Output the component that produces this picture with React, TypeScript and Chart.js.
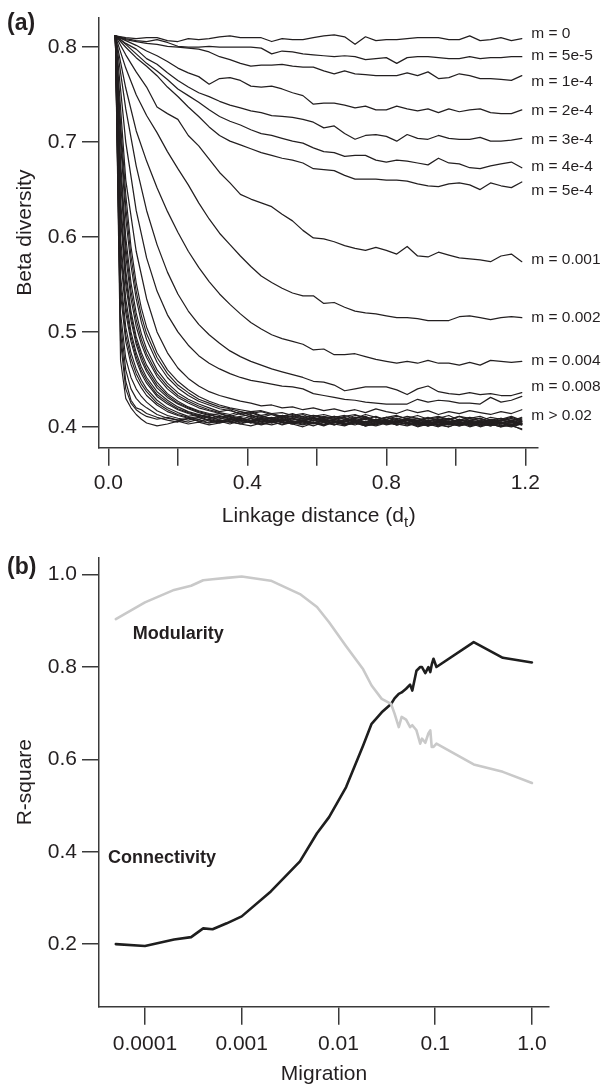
import React, { useEffect, useRef } from 'react';
import { Chart, registerables } from 'chart.js';

Chart.register(...registerables);

const FONT = "'Liberation Sans', Arial, Helvetica, sans-serif";
const INK = '#231f20';
const AXIS = '#3a3a3a';
const TEXT = '#231f20';

// ---------- Panel (a): beta diversity vs linkage distance ----------
const X_GRID = [0.02, 0.05, 0.08, 0.11, 0.14, 0.17, 0.20, 0.23, 0.26, 0.29, 0.32, 0.35, 0.38, 0.41, 0.44, 0.47, 0.50, 0.53, 0.56, 0.59, 0.62, 0.65, 0.68, 0.71, 0.74, 0.77, 0.80, 0.83, 0.86, 0.89, 0.92, 0.95, 0.98, 1.01, 1.04, 1.07, 1.10, 1.13, 1.16, 1.19];
const X_FAST = [0.02, 0.035, 0.05, 0.065, 0.08, 0.095, 0.11, 0.14, 0.17, 0.20, 0.23, 0.26, 0.29, 0.32, 0.35, 0.38, 0.41, 0.44, 0.47, 0.50, 0.53, 0.56, 0.59, 0.62, 0.65, 0.68, 0.71, 0.74, 0.77, 0.80, 0.83, 0.86, 0.89, 0.92, 0.95, 0.98, 1.01, 1.04, 1.07, 1.10, 1.13, 1.16, 1.19];

const BETA_M0 = [0.812,0.810,0.809,0.810,0.810,0.807,0.806,0.809,0.808,0.809,0.811,0.812,0.810,0.810,0.810,0.806,0.809,0.808,0.808,0.810,0.812,0.813,0.811,0.803,0.811,0.807,0.808,0.808,0.809,0.810,0.810,0.810,0.808,0.808,0.812,0.807,0.808,0.810,0.807,0.809];
const BETA_M5E5 = [0.812,0.809,0.807,0.806,0.808,0.805,0.801,0.800,0.800,0.801,0.800,0.800,0.800,0.800,0.799,0.793,0.796,0.795,0.793,0.792,0.791,0.790,0.791,0.790,0.787,0.788,0.789,0.783,0.789,0.790,0.790,0.789,0.788,0.788,0.790,0.788,0.789,0.789,0.790,0.790];
const BETA_M1E4 = [0.812,0.808,0.806,0.804,0.803,0.801,0.800,0.799,0.798,0.795,0.790,0.787,0.783,0.780,0.781,0.781,0.782,0.780,0.779,0.779,0.775,0.772,0.775,0.772,0.771,0.770,0.770,0.770,0.773,0.770,0.774,0.767,0.768,0.772,0.770,0.767,0.767,0.766,0.765,0.770];
const BETA_M2E4 = [0.812,0.807,0.802,0.796,0.791,0.785,0.778,0.773,0.769,0.761,0.767,0.768,0.765,0.759,0.758,0.759,0.756,0.752,0.749,0.740,0.741,0.741,0.739,0.736,0.738,0.734,0.734,0.738,0.735,0.733,0.735,0.731,0.735,0.732,0.734,0.735,0.731,0.730,0.730,0.734];
const BETA_M3E4 = [0.812,0.804,0.798,0.788,0.782,0.773,0.765,0.758,0.752,0.748,0.743,0.739,0.736,0.733,0.731,0.728,0.727,0.726,0.724,0.721,0.715,0.717,0.709,0.703,0.707,0.708,0.706,0.701,0.708,0.704,0.703,0.707,0.704,0.703,0.703,0.705,0.701,0.701,0.702,0.704];
const BETA_M4E4 = [0.812,0.803,0.793,0.783,0.775,0.766,0.756,0.749,0.742,0.734,0.727,0.722,0.718,0.713,0.709,0.707,0.704,0.701,0.699,0.694,0.690,0.689,0.685,0.686,0.686,0.681,0.679,0.681,0.680,0.678,0.676,0.683,0.678,0.677,0.673,0.672,0.675,0.677,0.679,0.673];
const BETA_M5E4 = [0.812,0.800,0.789,0.780,0.770,0.758,0.748,0.737,0.727,0.716,0.707,0.701,0.697,0.693,0.689,0.686,0.683,0.681,0.678,0.672,0.671,0.670,0.665,0.661,0.661,0.661,0.660,0.660,0.659,0.656,0.654,0.653,0.656,0.657,0.655,0.650,0.657,0.654,0.652,0.658];
const BETA_M001 = [0.812,0.792,0.774,0.758,0.737,0.730,0.724,0.707,0.696,0.682,0.668,0.657,0.645,0.640,0.636,0.632,0.624,0.617,0.607,0.599,0.598,0.595,0.591,0.588,0.586,0.589,0.586,0.582,0.590,0.580,0.579,0.584,0.581,0.578,0.577,0.576,0.574,0.580,0.582,0.574];
const BETA_M002 = [0.812,0.778,0.750,0.728,0.710,0.690,0.672,0.655,0.636,0.619,0.604,0.592,0.580,0.569,0.559,0.552,0.546,0.541,0.538,0.538,0.530,0.531,0.526,0.522,0.520,0.519,0.517,0.515,0.515,0.514,0.512,0.512,0.512,0.516,0.517,0.515,0.513,0.515,0.516,0.515];
const BETA_M004 = [0.812,0.757,0.712,0.680,0.652,0.627,0.605,0.585,0.568,0.553,0.540,0.529,0.519,0.510,0.503,0.497,0.493,0.490,0.487,0.481,0.482,0.476,0.476,0.477,0.474,0.471,0.469,0.467,0.469,0.467,0.470,0.467,0.467,0.465,0.468,0.465,0.470,0.469,0.468,0.469];
const BETA_M008 = [0.812,0.735,0.675,0.628,0.592,0.563,0.540,0.522,0.508,0.497,0.488,0.480,0.474,0.469,0.465,0.461,0.458,0.455,0.452,0.448,0.447,0.444,0.438,0.440,0.442,0.442,0.442,0.439,0.434,0.440,0.443,0.437,0.435,0.434,0.436,0.434,0.435,0.433,0.433,0.436];
const BETA_M01 = [0.812,0.700,0.628,0.578,0.543,0.518,0.500,0.486,0.475,0.467,0.461,0.456,0.452,0.449,0.447,0.445,0.443,0.442,0.440,0.435,0.433,0.431,0.429,0.428,0.426,0.425,0.424,0.424,0.424,0.429,0.426,0.428,0.427,0.425,0.425,0.424,0.431,0.426,0.428,0.432];
const BETA_M015 = [0.812,0.660,0.585,0.535,0.500,0.478,0.462,0.451,0.443,0.437,0.433,0.430,0.427,0.425,0.422,0.423,0.420,0.421,0.418,0.420,0.417,0.419,0.416,0.418,0.415,0.419,0.416,0.414,0.418,0.415,0.417,0.413,0.416,0.414,0.417,0.415,0.413,0.416,0.414,0.418];

// high-migration bundle (m > 0.02), sampled on X_FAST
const BETA_HIGH_1 = [0.812,0.72,0.645,0.59,0.552,0.525,0.505,0.478,0.460,0.448,0.439,0.432,0.427,0.423,0.420,0.418,0.416,0.417,0.414,0.415,0.412,0.414,0.411,0.413,0.410,0.412,0.409,0.413,0.410,0.408,0.411,0.409,0.412,0.408,0.410,0.407,0.411,0.409,0.406,0.410,0.408,0.411,0.407];
const BETA_HIGH_2 = [0.812,0.70,0.62,0.57,0.535,0.510,0.492,0.468,0.452,0.441,0.433,0.427,0.423,0.419,0.417,0.414,0.416,0.412,0.414,0.411,0.413,0.409,0.412,0.410,0.408,0.411,0.413,0.409,0.407,0.410,0.412,0.408,0.406,0.409,0.411,0.408,0.405,0.409,0.411,0.407,0.409,0.406,0.410];
const BETA_HIGH_3 = [0.812,0.68,0.60,0.552,0.520,0.498,0.482,0.460,0.446,0.436,0.429,0.424,0.420,0.416,0.418,0.413,0.415,0.411,0.409,0.412,0.410,0.413,0.408,0.411,0.409,0.406,0.410,0.408,0.411,0.407,0.405,0.409,0.407,0.410,0.406,0.408,0.411,0.407,0.405,0.408,0.406,0.409,0.405];
const BETA_HIGH_4 = [0.812,0.66,0.58,0.535,0.506,0.487,0.473,0.453,0.440,0.431,0.425,0.420,0.417,0.414,0.411,0.414,0.410,0.412,0.408,0.411,0.407,0.409,0.406,0.410,0.408,0.405,0.409,0.411,0.406,0.408,0.404,0.407,0.409,0.405,0.408,0.406,0.403,0.407,0.409,0.405,0.407,0.404,0.406];
const BETA_HIGH_5 = [0.812,0.64,0.565,0.522,0.495,0.478,0.465,0.447,0.435,0.427,0.421,0.417,0.414,0.412,0.409,0.411,0.413,0.408,0.410,0.406,0.409,0.411,0.407,0.405,0.408,0.410,0.406,0.404,0.408,0.406,0.409,0.405,0.403,0.407,0.405,0.408,0.404,0.406,0.403,0.407,0.405,0.402,0.406];
const BETA_HIGH_6 = [0.812,0.62,0.55,0.512,0.487,0.470,0.458,0.441,0.431,0.424,0.419,0.415,0.412,0.414,0.410,0.408,0.411,0.407,0.409,0.412,0.408,0.406,0.409,0.407,0.404,0.407,0.409,0.405,0.408,0.403,0.406,0.408,0.405,0.402,0.406,0.404,0.407,0.405,0.402,0.405,0.403,0.407,0.404];
const BETA_HIGH_7 = [0.812,0.60,0.535,0.500,0.478,0.463,0.452,0.437,0.428,0.421,0.416,0.413,0.410,0.408,0.411,0.407,0.405,0.409,0.406,0.408,0.405,0.403,0.407,0.409,0.405,0.403,0.406,0.408,0.404,0.406,0.402,0.405,0.407,0.404,0.401,0.405,0.403,0.406,0.404,0.401,0.404,0.406,0.403];
const BETA_HIGH_8 = [0.812,0.58,0.52,0.490,0.470,0.456,0.446,0.432,0.424,0.418,0.414,0.411,0.413,0.409,0.407,0.410,0.406,0.408,0.404,0.407,0.409,0.405,0.403,0.406,0.408,0.404,0.402,0.406,0.403,0.405,0.408,0.404,0.402,0.405,0.403,0.400,0.404,0.402,0.405,0.403,0.400,0.404,0.402];
const BETA_HIGH_9 = [0.812,0.56,0.505,0.478,0.461,0.449,0.440,0.428,0.420,0.415,0.411,0.413,0.409,0.406,0.408,0.405,0.409,0.406,0.404,0.407,0.404,0.406,0.409,0.405,0.402,0.405,0.407,0.403,0.401,0.404,0.406,0.403,0.405,0.401,0.404,0.402,0.405,0.401,0.403,0.406,0.402,0.400,0.403];
const BETA_HIGH_10 = [0.812,0.54,0.490,0.466,0.451,0.441,0.433,0.423,0.416,0.412,0.409,0.411,0.407,0.405,0.408,0.404,0.406,0.409,0.405,0.403,0.406,0.404,0.401,0.405,0.407,0.403,0.405,0.402,0.404,0.407,0.403,0.401,0.404,0.406,0.402,0.404,0.401,0.403,0.406,0.402,0.404,0.401,0.398];
const BETA_HIGH_11 = [0.812,0.52,0.472,0.452,0.440,0.432,0.426,0.417,0.412,0.409,0.407,0.410,0.406,0.404,0.407,0.409,0.405,0.403,0.406,0.402,0.405,0.407,0.404,0.402,0.405,0.403,0.406,0.401,0.403,0.405,0.402,0.404,0.400,0.403,0.405,0.402,0.404,0.400,0.403,0.401,0.404,0.402,0.404];
const BETA_HIGH_12 = [0.812,0.50,0.448,0.428,0.420,0.418,0.414,0.410,0.407,0.405,0.409,0.406,0.404,0.407,0.405,0.403,0.406,0.404,0.408,0.405,0.403,0.406,0.404,0.401,0.405,0.403,0.406,0.404,0.402,0.405,0.403,0.407,0.404,0.402,0.405,0.403,0.401,0.404,0.406,0.403,0.405,0.402,0.404];
const BETA_HIGH_13 = [0.812,0.47,0.430,0.420,0.413,0.408,0.404,0.401,0.403,0.406,0.403,0.405,0.402,0.404,0.406,0.403,0.401,0.404,0.402,0.405,0.403,0.400,0.404,0.402,0.405,0.402,0.404,0.401,0.403,0.406,0.402,0.404,0.401,0.403,0.400,0.404,0.402,0.405,0.401,0.403,0.400,0.402,0.397];
const BETA_HIGH_14 = [0.812,0.71,0.632,0.58,0.543,0.517,0.498,0.473,0.456,0.444,0.436,0.429,0.425,0.421,0.419,0.416,0.414,0.416,0.413,0.411,0.414,0.410,0.412,0.409,0.411,0.408,0.412,0.410,0.407,0.410,0.408,0.411,0.409,0.406,0.409,0.412,0.407,0.410,0.408,0.405,0.409,0.407,0.409];
const BETA_HIGH_15 = [0.812,0.67,0.59,0.543,0.513,0.492,0.477,0.456,0.443,0.433,0.427,0.422,0.418,0.415,0.413,0.416,0.412,0.410,0.413,0.409,0.411,0.408,0.410,0.407,0.411,0.409,0.406,0.409,0.407,0.410,0.406,0.408,0.405,0.409,0.407,0.404,0.408,0.406,0.409,0.405,0.407,0.410,0.406];
const BETA_HIGH_16 = [0.812,0.63,0.558,0.517,0.491,0.474,0.461,0.444,0.433,0.425,0.420,0.416,0.413,0.410,0.412,0.409,0.407,0.410,0.408,0.405,0.409,0.407,0.410,0.406,0.404,0.408,0.406,0.409,0.405,0.407,0.404,0.408,0.406,0.403,0.407,0.409,0.405,0.403,0.406,0.404,0.407,0.405,0.403];
const BETA_HIGH_17 = [0.812,0.59,0.527,0.495,0.474,0.459,0.449,0.434,0.426,0.419,0.415,0.412,0.409,0.411,0.408,0.406,0.409,0.405,0.407,0.410,0.406,0.404,0.407,0.405,0.402,0.406,0.408,0.404,0.406,0.403,0.405,0.407,0.403,0.401,0.405,0.403,0.406,0.402,0.404,0.407,0.403,0.405,0.402];
const BETA_HIGH_18 = [0.812,0.55,0.497,0.472,0.456,0.445,0.437,0.425,0.418,0.413,0.410,0.408,0.411,0.407,0.405,0.408,0.404,0.406,0.409,0.405,0.403,0.406,0.404,0.407,0.403,0.401,0.405,0.403,0.406,0.402,0.404,0.407,0.403,0.405,0.402,0.400,0.404,0.406,0.402,0.404,0.401,0.405,0.403];
const BETA_HIGH_19 = [0.812,0.51,0.460,0.440,0.430,0.424,0.420,0.413,0.409,0.407,0.405,0.408,0.404,0.406,0.403,0.407,0.405,0.402,0.405,0.408,0.404,0.402,0.405,0.403,0.406,0.402,0.404,0.401,0.405,0.403,0.406,0.402,0.404,0.401,0.403,0.406,0.402,0.404,0.400,0.403,0.405,0.401,0.403];
const BETA_HIGH_20 = [0.812,0.49,0.440,0.425,0.418,0.414,0.411,0.408,0.410,0.407,0.409,0.406,0.408,0.405,0.409,0.407,0.404,0.408,0.406,0.409,0.405,0.407,0.404,0.408,0.406,0.403,0.407,0.405,0.408,0.404,0.406,0.409,0.405,0.403,0.407,0.405,0.408,0.404,0.406,0.403,0.407,0.405,0.408];

const SLOW_SERIES = [BETA_M0, BETA_M5E5, BETA_M1E4, BETA_M2E4, BETA_M3E4, BETA_M4E4, BETA_M5E4, BETA_M001, BETA_M002, BETA_M004, BETA_M008, BETA_M01, BETA_M015];
const FAST_SERIES = [BETA_HIGH_1, BETA_HIGH_14, BETA_HIGH_2, BETA_HIGH_3, BETA_HIGH_15, BETA_HIGH_4, BETA_HIGH_5, BETA_HIGH_16, BETA_HIGH_6, BETA_HIGH_7, BETA_HIGH_17, BETA_HIGH_8, BETA_HIGH_9, BETA_HIGH_18, BETA_HIGH_10, BETA_HIGH_11, BETA_HIGH_19, BETA_HIGH_12, BETA_HIGH_20, BETA_HIGH_13];

const LINE_LABELS = ['m = 0', 'm = 5e-5', 'm = 1e-4', 'm = 2e-4', 'm = 3e-4', 'm = 4e-4', 'm = 5e-4', 'm = 0.001', 'm = 0.002', 'm = 0.004', 'm = 0.008', 'm > 0.02'];
const LABEL_Y = [0.814, 0.791, 0.764, 0.733, 0.703, 0.674, 0.649, 0.576, 0.515, 0.470, 0.442, 0.412];
const LABEL_X = 1.217;

const A_X_TICKS = [0, 0.2, 0.4, 0.6, 0.8, 1.0, 1.2];
const A_X_LABELS = ['0.0', '', '0.4', '', '0.8', '', '1.2'];
const A_Y_TICKS = [0.4, 0.5, 0.6, 0.7, 0.8];
const A_Y_LABELS = ['0.4', '0.5', '0.6', '0.7', '0.8'];

// ---------- Panel (b): R-square vs migration ----------
const MIGRATION = [5e-5, 1e-4, 2e-4, 3e-4, 4e-4, 5e-4, 7e-4, 1e-3, 2e-3, 4e-3, 6e-3, 8e-3, 0.012, 0.018, 0.022, 0.028, 0.035, 0.038, 0.042, 0.045, 0.05, 0.055, 0.058, 0.064, 0.07, 0.073, 0.079, 0.085, 0.089, 0.092, 0.096, 0.103, 0.25, 0.5, 1.0];
const CONNECTIVITY = [0.200, 0.196, 0.210, 0.215, 0.234, 0.232, 0.245, 0.260, 0.314, 0.379, 0.440, 0.475, 0.540, 0.630, 0.677, 0.702, 0.720, 0.732, 0.742, 0.745, 0.753, 0.762, 0.749, 0.792, 0.800, 0.800, 0.787, 0.800, 0.789, 0.805, 0.818, 0.800, 0.854, 0.820, 0.810];
const MODULARITY = [0.904, 0.940, 0.967, 0.976, 0.988, 0.990, 0.993, 0.996, 0.987, 0.958, 0.930, 0.897, 0.845, 0.795, 0.760, 0.731, 0.720, 0.699, 0.670, 0.692, 0.686, 0.670, 0.674, 0.663, 0.634, 0.645, 0.636, 0.656, 0.663, 0.627, 0.627, 0.634, 0.589, 0.573, 0.549];

const B_X_TICKS = [1e-4, 1e-3, 1e-2, 1e-1, 1];
const B_X_LABELS = ['0.0001', '0.001', '0.01', '0.1', '1.0'];
const B_Y_TICKS = [0.2, 0.4, 0.6, 0.8, 1.0];
const B_Y_LABELS = ['0.2', '0.4', '0.6', '0.8', '1.0'];

const ANNOT_TEXT = ['Modularity', 'Connectivity'];
const ANNOT_M = [7.5e-5, 4.15e-5];
const ANNOT_V = [0.872, 0.386];

function lineSet(xs: number[], ys: number[], color: string, width: number) {
  return {
    data: xs.map((x, i) => ({ x, y: ys[i] })),
    borderColor: color,
    backgroundColor: color,
    borderWidth: width,
    pointRadius: 0,
    fill: false,
    tension: 0,
    borderJoinStyle: 'round' as const,
    borderCapStyle: 'round' as const,
  };
}

function axisStyle(tickLength: number) {
  return {
    grid: { display: true, drawOnChartArea: false, drawTicks: true, tickLength, color: AXIS, lineWidth: 1.5 },
    border: { display: true, color: AXIS, width: 1.5 },
  };
}

const panelAText = {
  id: 'panelAText',
  afterDraw(chart: any) {
    const { ctx, chartArea, scales } = chart;
    const xs = scales.x;
    const ys = scales.y;
    ctx.save();
    ctx.fillStyle = TEXT;
    ctx.textAlign = 'left';
    ctx.textBaseline = 'middle';
    ctx.font = `15.5px ${FONT}`;
    LINE_LABELS.forEach((t, i) => {
      ctx.fillText(t, xs.getPixelForValue(LABEL_X), ys.getPixelForValue(LABEL_Y[i]));
    });
    ctx.textBaseline = 'alphabetic';
    ctx.font = `bold 23px ${FONT}`;
    ctx.fillStyle = INK;
    ctx.fillText('(a)', 7, 30);
    // axis title with subscript
    ctx.fillStyle = TEXT;
    const main = 'Linkage distance (d';
    const sub = 't';
    const close = ')';
    ctx.font = `21px ${FONT}`;
    const w1 = ctx.measureText(main).width;
    const w3 = ctx.measureText(close).width;
    ctx.font = `15px ${FONT}`;
    const w2 = ctx.measureText(sub).width;
    const cx = (chartArea.left + chartArea.right) / 2;
    const sx = cx - (w1 + w2 + w3) / 2;
    const base = 522;
    ctx.font = `21px ${FONT}`;
    ctx.fillText(main, sx, base);
    ctx.font = `15px ${FONT}`;
    ctx.fillText(sub, sx + w1, base + 5);
    ctx.font = `21px ${FONT}`;
    ctx.fillText(close, sx + w1 + w2 + 0.5, base);
    ctx.restore();
  },
};

const panelBText = {
  id: 'panelBText',
  afterDraw(chart: any) {
    const { ctx, scales } = chart;
    const xs = scales.x;
    const ys = scales.y;
    ctx.save();
    ctx.fillStyle = INK;
    ctx.textAlign = 'left';
    ctx.textBaseline = 'alphabetic';
    ctx.font = `bold 23px ${FONT}`;
    ctx.fillText('(b)', 7, 34);
    ctx.textBaseline = 'middle';
    ctx.font = `bold 18px ${FONT}`;
    ANNOT_TEXT.forEach((t, i) => {
      ctx.fillText(t, xs.getPixelForValue(ANNOT_M[i]), ys.getPixelForValue(ANNOT_V[i]));
    });
    ctx.restore();
  },
};

export default function App() {
  const refA = useRef<HTMLCanvasElement | null>(null);
  const refB = useRef<HTMLCanvasElement | null>(null);

  useEffect(() => {
    const tickFont = { family: FONT, size: 21 };
    const titleFont = { family: FONT, size: 21 };

    const datasetsA = [
      ...FAST_SERIES.map((s) => lineSet(X_FAST, s, INK, 1.15)),
      ...SLOW_SERIES.map((s) => lineSet(X_GRID, s, INK, 1.25)),
    ];

    const chartA = new Chart(refA.current as HTMLCanvasElement, {
      type: 'line',
      data: { datasets: datasetsA as any },
      plugins: [panelAText],
      options: {
        animation: false,
        responsive: false,
        maintainAspectRatio: false,
        events: [],
        layout: { padding: { left: 0, right: 67, top: 9.3, bottom: 0 } },
        plugins: { legend: { display: false }, tooltip: { enabled: false }, title: { display: false } },
        scales: {
          x: {
            type: 'linear',
            min: -0.027,
            max: 1.2366,
            ...axisStyle(18),
            afterBuildTicks: (s: any) => { s.ticks = A_X_TICKS.map((v) => ({ value: v })); },
            afterFit: (s: any) => { s.height = 92.3; },
            ticks: {
              autoSkip: false,
              maxRotation: 0,
              padding: 5,
              color: TEXT,
              font: tickFont,
              callback: (_v: any, i: number) => A_X_LABELS[i],
            },
          },
          y: {
            type: 'linear',
            min: 0.378,
            max: 0.8312,
            ...axisStyle(17),
            afterBuildTicks: (s: any) => { s.ticks = A_Y_TICKS.map((v) => ({ value: v })); },
            afterFit: (s: any) => { s.width = 99; },
            ticks: {
              padding: 5,
              color: TEXT,
              font: tickFont,
              callback: (_v: any, i: number) => A_Y_LABELS[i],
            },
            title: { display: true, text: 'Beta diversity', color: TEXT, font: titleFont, padding: { top: 12.4, bottom: 0 } },
          },
        },
      } as any,
    });

    const chartB = new Chart(refB.current as HTMLCanvasElement, {
      type: 'line',
      data: {
        datasets: [
          lineSet(MIGRATION, MODULARITY, '#c9c9c9', 2.6),
          lineSet(MIGRATION, CONNECTIVITY, '#1e1e1e', 2.6),
        ] as any,
      },
      plugins: [panelBText],
      options: {
        animation: false,
        responsive: false,
        maintainAspectRatio: false,
        events: [],
        layout: { padding: { left: 0, right: 56, top: 17, bottom: 0 } },
        plugins: { legend: { display: false }, tooltip: { enabled: false }, title: { display: false } },
        scales: {
          x: {
            type: 'logarithmic',
            min: 3.35e-5,
            max: 1.5,
            ...axisStyle(18),
            afterBuildTicks: (s: any) => { s.ticks = B_X_TICKS.map((v) => ({ value: v })); },
            afterFit: (s: any) => { s.height = 81.3; },
            ticks: {
              autoSkip: false,
              maxRotation: 0,
              padding: 7,
              color: TEXT,
              font: tickFont,
              callback: (_v: any, i: number) => B_X_LABELS[i],
            },
            title: { display: true, text: 'Migration', color: TEXT, font: titleFont, padding: { top: 0, bottom: 1 } },
          },
          y: {
            type: 'linear',
            min: 0.0644,
            max: 1.037,
            ...axisStyle(17),
            afterBuildTicks: (s: any) => { s.ticks = B_Y_TICKS.map((v) => ({ value: v })); },
            afterFit: (s: any) => { s.width = 99; },
            ticks: {
              padding: 5,
              color: TEXT,
              font: tickFont,
              callback: (_v: any, i: number) => B_Y_LABELS[i],
            },
            title: { display: true, text: 'R-square', color: TEXT, font: titleFont, padding: { top: 12.4, bottom: 0 } },
          },
        },
      } as any,
    });

    return () => {
      chartA.destroy();
      chartB.destroy();
    };
  }, []);

  return (
    <div style={{ position: 'absolute', left: 0, top: 0, width: 605, height: 1088, background: '#ffffff', overflow: 'hidden' }}>
      <canvas ref={refA} width={605} height={540} style={{ position: 'absolute', left: 0, top: 0, width: 605, height: 540 }} />
      <canvas ref={refB} width={605} height={548} style={{ position: 'absolute', left: 0, top: 540, width: 605, height: 548 }} />
    </div>
  );
}
